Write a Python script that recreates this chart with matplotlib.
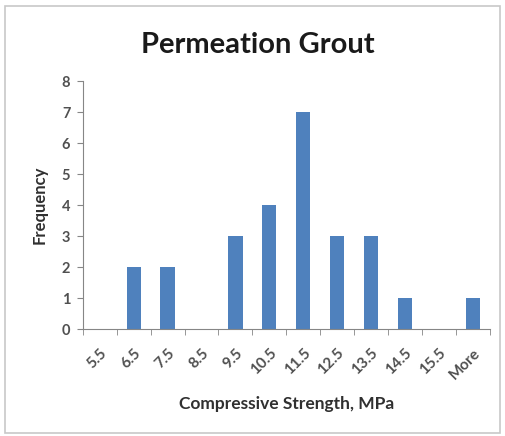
import matplotlib
matplotlib.use("Agg")
import matplotlib.pyplot as plt
from matplotlib.patches import Rectangle

bins = ["5.5", "6.5", "7.5", "8.5", "9.5", "10.5", "11.5", "12.5", "13.5", "14.5", "15.5", "More"]
frequency = [0, 2, 2, 0, 3, 4, 7, 3, 3, 1, 0, 1]

plt.rcParams["font.family"] = ["Lato", "DejaVu Sans"]

fig = plt.figure(figsize=(5.05, 4.36), dpi=100)
fig.patches.append(Rectangle((0.010, 0.008), 0.980, 0.978, transform=fig.transFigure,
                             fill=False, edgecolor="#c8c8c8", linewidth=1.2))

ax = fig.add_axes([0.164, 0.245, 0.806, 0.569])
x = list(range(len(bins)))
ax.bar(x, frequency, width=0.42, color="#4f81bd")

ax.set_xlim(-0.5, len(bins) - 0.5)
ax.set_ylim(0, 8)
ax.set_yticks(range(0, 9))
ax.set_yticklabels([str(v) for v in range(0, 9)], fontsize=10.5, fontweight="bold",
                   color="#505050")
ax.tick_params(axis="y", length=4, color="#868686", pad=5)

ax.set_xticks(x)
ax.set_xticklabels(bins, rotation=45, ha="right", rotation_mode="anchor",
                   fontsize=11, fontweight="bold", color="#505050")
ax.tick_params(axis="x", length=0, pad=12)
# category separators below the axis
ax.set_xticks([i - 0.5 for i in range(len(bins) + 1)], minor=True)
ax.tick_params(axis="x", which="minor", length=4, color="#868686")

for side in ("top", "right"):
    ax.spines[side].set_visible(False)
for side in ("left", "bottom"):
    ax.spines[side].set_color("#868686")

ax.set_xlabel("Compressive Strength, MPa", fontsize=12.5, fontweight="bold",
              color="#303030", labelpad=10)
ax.set_ylabel("Frequency", fontsize=12, fontweight="bold", color="#303030", labelpad=10)
fig.text(0.51, 0.897, "Permeation Grout", ha="center", va="center",
         fontsize=21, fontweight="bold", color="#1a1a1a")

fig.savefig("out.png", dpi=100)
